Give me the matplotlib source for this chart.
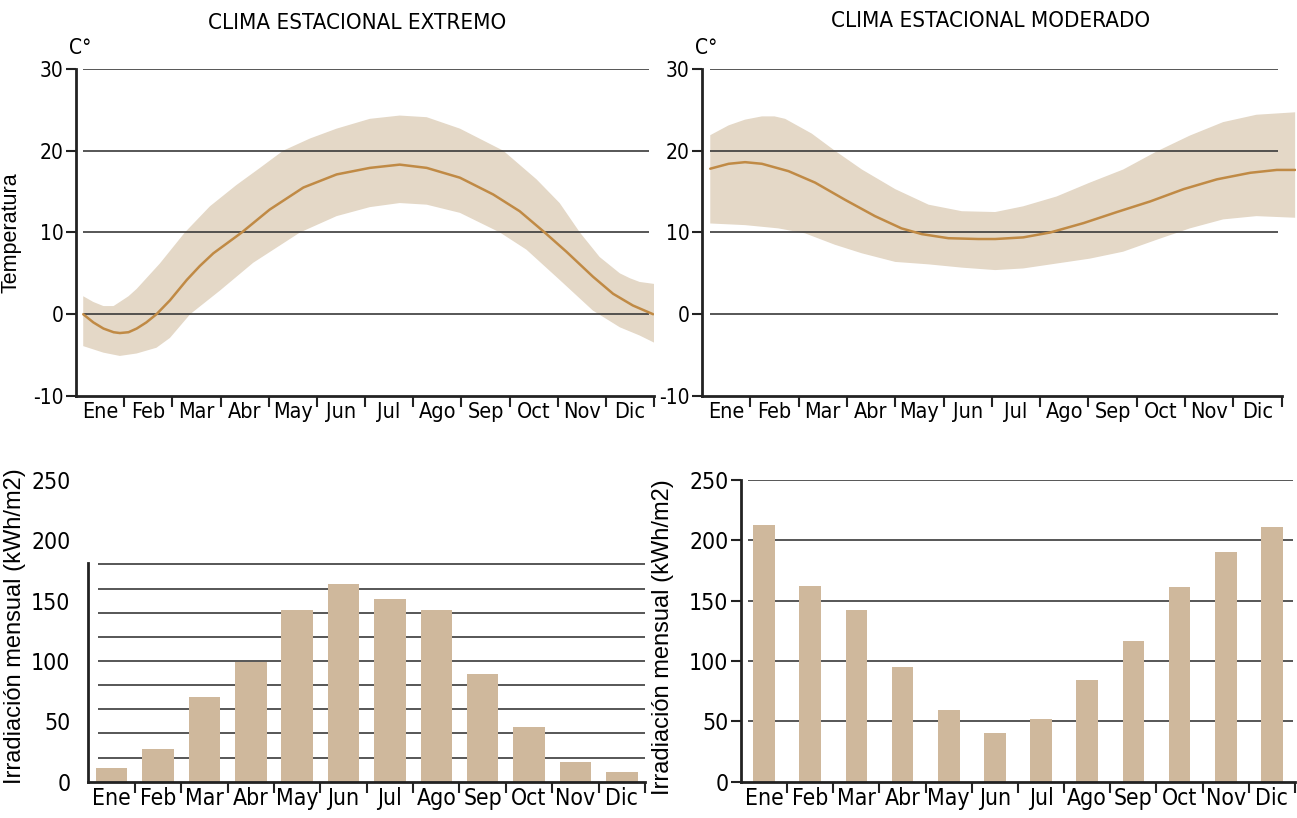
import numpy as np
import matplotlib.pyplot as plt

meses = ['Ene', 'Feb', 'Mar', 'Abr', 'May', 'Jun', 'Jul', 'Ago', 'Sep', 'Oct', 'Nov', 'Dic']

# temperatura, clima extremo (x en meses desde el inicio de Ene)
ext_x = [0.15, 0.36, 0.57, 0.78, 0.91, 1.09, 1.26, 1.46, 1.67, 1.95, 2.30, 2.57, 2.85,
         3.44, 4.02, 4.72, 5.41, 6.10, 6.72, 7.28, 7.97, 8.66, 9.21, 9.73, 10.18,
         10.73, 11.15, 11.56, 11.98]
ext_t = [0, -1.0, -1.75, -2.2, -2.3, -2.2, -1.75, -1.0, 0, 1.7, 4.2, 5.9, 7.45,
         10.0, 12.8, 15.5, 17.1, 17.9, 18.3, 17.9, 16.7, 14.65, 12.6, 10.0, 7.65,
         4.6, 2.5, 1.07, 0]
ext_up_x = [0.15, 0.36, 0.57, 0.78, 0.91, 1.09, 1.26, 1.74, 2.26, 2.78, 3.33, 3.82,
            4.30, 4.86, 5.41, 6.10, 6.72, 7.28, 7.97, 8.87, 9.56, 10.04, 10.46,
            10.87, 11.29, 11.50, 11.70, 12.01]
ext_up = [2.2, 1.5, 1.0, 1.0, 1.5, 2.2, 3.1, 6.2, 10.0, 13.2, 15.8, 17.9,
          20.0, 21.5, 22.7, 23.9, 24.3, 24.1, 22.7, 20.0, 16.5, 13.6, 10.0,
          7.0, 5.0, 4.4, 3.95, 3.7]
ext_lo_x = [0.15, 0.57, 0.91, 1.26, 1.67, 1.95, 2.37, 2.99, 3.68, 4.65, 5.41, 6.10,
            6.72, 7.28, 7.97, 8.80, 9.35, 10.04, 10.73, 11.29, 11.70, 12.01]
ext_lo = [-3.9, -4.7, -5.1, -4.8, -4.1, -2.9, 0.0, 2.9, 6.3, 10.0, 12.0, 13.1,
          13.6, 13.4, 12.4, 10.0, 7.9, 4.2, 0.45, -1.6, -2.6, -3.5]

# temperatura, clima moderado
mod_x = [0.17, 0.55, 0.89, 1.24, 1.79, 2.34, 2.96, 3.58, 4.13, 4.55, 5.10, 5.72,
         6.07, 6.65, 7.21, 7.90, 8.59, 9.28, 9.97, 10.66, 11.35, 11.90, 12.28]
mod_t = [17.8, 18.4, 18.6, 18.4, 17.5, 16.1, 14.0, 12.0, 10.5, 9.8, 9.3, 9.2,
         9.2, 9.4, 10.0, 11.15, 12.5, 13.8, 15.3, 16.5, 17.3, 17.65, 17.65]
mod_up_x = [0.17, 0.55, 0.89, 1.24, 1.50, 1.72, 2.27, 2.75, 3.31, 4.00, 4.69, 5.38, 6.07,
            6.65, 7.34, 8.03, 8.72, 9.41, 10.10, 10.79, 11.48, 12.28]
mod_up = [21.9, 23.1, 23.8, 24.2, 24.2, 23.9, 22.1, 20.0, 17.7, 15.3, 13.4, 12.6, 12.5,
          13.2, 14.4, 16.1, 17.7, 19.9, 21.85, 23.5, 24.4, 24.7]
mod_lo_x = [0.17, 0.89, 1.58, 2.13, 2.75, 3.31, 4.00, 4.69, 5.38, 6.07,
            6.65, 7.34, 8.03, 8.72, 9.41, 10.10, 10.79, 11.48, 12.28]
mod_lo = [11.1, 10.9, 10.5, 9.9, 8.5, 7.45, 6.4, 6.1, 5.7, 5.4,
          5.6, 6.2, 6.8, 7.65, 9.1, 10.5, 11.6, 12.0, 11.8]

# irradiacion mensual (kWh/m2)
irr_ext = [11, 27, 70, 99, 142.5, 164, 151, 142.5, 89.5, 45.6, 16.4, 8]
irr_mod = [213, 162, 142.5, 94.8, 59.4, 40, 51.7, 84, 116.6, 161, 190.6, 211]

band_col = '#e4d8c7'
line_col = '#c08a45'
bar_col = '#cfb89c'
grid_col = '#3a3a3a'
axis_col = '#222222'
cond = dict(family='DejaVu Sans', fontstretch='condensed')
plt.rcParams['font.family'] = ['Liberation Sans', 'DejaVu Sans']

fig = plt.figure(figsize=(12.97, 8.18), dpi=100)
ax1 = fig.add_axes([0.0586, 0.5159, 0.4457, 0.3998])
ax2 = fig.add_axes([0.5413, 0.5159, 0.4580, 0.3998])
ax3 = fig.add_axes([0.0682, 0.0444, 0.4291, 0.3688])
ax4 = fig.add_axes([0.5713, 0.0444, 0.4271, 0.3688])


def month_axis(ax, size, xmax=12):
    ax.set_xlim(0, xmax)
    for s in ['top', 'right']:
        ax.spines[s].set_visible(False)
    for s in ['left', 'bottom']:
        ax.spines[s].set_linewidth(2)
        ax.spines[s].set_color(axis_col)
    ax.spines['bottom'].set_bounds(0, 12)
    ax.set_xticks(np.arange(1, 13))
    ax.set_xticklabels([])
    ax.set_xticks(np.arange(12) + 0.5, minor=True)
    ax.set_xticklabels(meses, minor=True, fontsize=size, **cond)
    ax.tick_params(axis='x', which='major', length=8, width=1.5, color=axis_col)
    ax.tick_params(axis='x', which='minor', length=0, pad=4)


# temperatura
for ax, bx1, by1, bx2, by2, lx, ly, g0, g1, xmax in [
        (ax1, ext_up_x, ext_up, ext_lo_x, ext_lo, ext_x, ext_t, 0.15, 11.9, 12),
        (ax2, mod_up_x, mod_up, mod_lo_x, mod_lo, mod_x, mod_t, 0.17, 11.93, 12.3)]:
    ax.fill(np.concatenate([bx1, bx2[::-1]]), np.concatenate([by1, by2[::-1]]),
            color=band_col, lw=0, zorder=1)
    ax.hlines([0, 10, 20, 30], g0, g1, color=grid_col, lw=1.2, zorder=2)
    ax.plot(lx, ly, color=line_col, lw=1.8, zorder=3, solid_capstyle='round',
            solid_joinstyle='round')
    ax.set_ylim(-10, 30)
    ax.spines['left'].set_bounds(-10, 30)
    ax.set_yticks([-10, 0, 10, 20, 30])
    ax.set_yticklabels(['-10', '0', '10', '20', '30'], fontsize=15, **cond)
    ax.tick_params(axis='y', length=7, width=1.5, color=axis_col, pad=2)
    month_axis(ax, 15.5, xmax)
    ax.text(-0.012, 1.045, 'C°', transform=ax.transAxes, fontsize=15, **cond)

ax1.set_ylabel('Temperatura', fontsize=15.5)
ax1.yaxis.set_label_coords(-0.095, 0.5)

fig.text(0.2755, 0.972, 'CLIMA ESTACIONAL EXTREMO', ha='center', va='center',
         fontsize=16, **cond)
fig.text(0.7635, 0.974, 'CLIMA ESTACIONAL MODERADO', ha='center', va='center',
         fontsize=16, **cond)

# irradiacion
pos = np.arange(12) + 0.5
ax3.bar(pos, irr_ext, width=0.68, color=bar_col, zorder=2)
ax3.hlines(np.arange(20, 181, 20), 0.2, 12, color=grid_col, lw=1.2, zorder=1)
ax3.set_ylim(0, 250)
ax3.spines['left'].set_bounds(0, 181)
ax3.set_yticks([0, 50, 100, 150, 200, 250])
ax3.set_yticklabels(['0', '50', '100', '150', '200', '250'], fontsize=16.5, **cond)
ax3.tick_params(axis='y', length=0, pad=13)
month_axis(ax3, 16.5)

ax4.bar(pos, irr_mod, width=0.47, color=bar_col, zorder=2)
ax4.hlines([50, 100, 150, 200, 250], 0.15, 11.95, color=grid_col, lw=1.2, zorder=1)
ax4.set_ylim(0, 250)
ax4.spines['left'].set_bounds(0, 250)
ax4.set_yticks([0, 50, 100, 150, 200, 250])
ax4.set_yticklabels(['0', '50', '100', '150', '200', '250'], fontsize=16.5, **cond)
ax4.tick_params(axis='y', length=7, width=1.5, color=axis_col, pad=2)
month_axis(ax4, 16.5)

for ax, xl, yl in [(ax3, -0.112, 0.516), (ax4, -0.121, 0.48)]:
    ax.set_ylabel('Irradiación mensual (kWh/m2)', fontsize=17)
    ax.yaxis.set_label_coords(xl, yl)

fig.savefig('out.png', dpi=100)
